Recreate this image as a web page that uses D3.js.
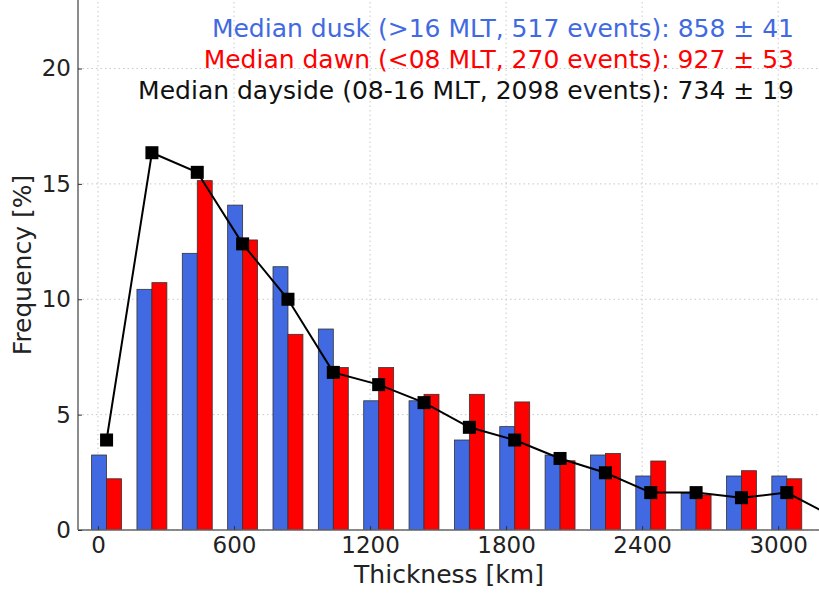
<!DOCTYPE html>
<html>
<head>
<meta charset="utf-8">
<script src="https://cdn.jsdelivr.net/npm/d3@7"></script>
<style>
  body { margin: 0; background: #fff; }
  svg { display: block; font-family: 'DejaVu Sans', sans-serif; }
</style>
</head>
<body>
<svg width="819" height="593"></svg>
<script>
const w = 819;
const h = 593;

// thickness bins (km, 200 km wide)
const bins = [0, 200, 400, 600, 800, 1000, 1200, 1400, 1600, 1800, 2000, 2200, 2400, 2600, 2800, 3000, 3200];
const dusk = [3.25, 10.43, 11.99, 14.08, 11.41, 8.71, 5.6, 5.6, 3.9, 4.48, 3.25, 3.25, 2.34, 1.59, 2.34, 2.34];
const dawn = [2.22, 10.72, 15.14, 12.57, 8.48, 7.04, 7.04, 5.88, 5.88, 5.55, 3.0, 3.32, 2.99, 1.52, 2.57, 2.22];
const dayside = [3.9, 16.35, 15.5, 12.4, 10.0, 6.83, 6.3, 5.52, 4.45, 3.9, 3.1, 2.48, 1.62, 1.62, 1.4, 1.62, 0.6];
const xTicks = [0, 600, 1200, 1800, 2400, 3000];
const yTicks = [0, 5, 10, 15, 20];
const legendLines = [
  { text: 'Median dusk (>16 MLT, 517 events): 858 \u00b1 41', color: '#4169e1' },
  { text: 'Median dawn (<08 MLT, 270 events): 927 \u00b1 53', color: '#ff0000' },
  { text: 'Median dayside (08-16 MLT, 2098 events): 734 \u00b1 19', color: '#111111' }
];

const margin = { left: 78, top: 1, right: 0, bottom: 63 };
const barW = 66; // km
const offset = 38; // group centre inside each bin

const svg = d3.select('svg');

const x = d3.scaleLinear().domain([-88, 3180]).range([margin.left, w - margin.right]);
const y = d3.scaleLinear().domain([0, 23]).range([h - margin.bottom, 530 - 23 * 23.075]);

svg.append('defs').append('clipPath').attr('id', 'clip')
  .append('rect')
  .attr('x', margin.left).attr('y', y(23))
  .attr('width', w - margin.left).attr('height', y(0) - y(23));

// grid
const grid = svg.append('g');
grid.selectAll('.gx').data(xTicks).enter().append('line')
  .attr('x1', d => x(d)).attr('x2', d => x(d))
  .attr('y1', y(0)).attr('y2', y(23))
  .attr('stroke', '#c8c8c8').attr('stroke-dasharray', '1.5,3').attr('stroke-width', 1);
grid.selectAll('.gy').data(yTicks).enter().append('line')
  .attr('x1', margin.left).attr('x2', w)
  .attr('y1', d => y(d)).attr('y2', d => y(d))
  .attr('stroke', '#c8c8c8').attr('stroke-dasharray', '1.5,3').attr('stroke-width', 1);

const plot = svg.append('g').attr('clip-path', 'url(#clip)');

// bars
plot.selectAll('.dusk').data(dusk).enter().append('rect')
  .attr('x', (d, i) => x(bins[i] + offset - barW))
  .attr('width', x(barW) - x(0))
  .attr('y', d => y(d))
  .attr('height', d => y(0) - y(d))
  .attr('fill', '#4169e1').attr('stroke', '#333').attr('stroke-width', 0.8);

plot.selectAll('.dawn').data(dawn).enter().append('rect')
  .attr('x', (d, i) => x(bins[i] + offset))
  .attr('width', x(barW) - x(0))
  .attr('y', d => y(d))
  .attr('height', d => y(0) - y(d))
  .attr('fill', '#ff0000').attr('stroke', '#333').attr('stroke-width', 0.8);

// dayside line
const line = d3.line().x((d, i) => x(bins[i] + offset)).y(d => y(d));
plot.append('path').datum(dayside)
  .attr('d', line)
  .attr('fill', 'none').attr('stroke', '#000').attr('stroke-width', 2);

plot.selectAll('.sq').data(dayside).enter().append('rect')
  .attr('x', (d, i) => x(bins[i] + offset) - 6.5)
  .attr('y', d => y(d) - 6.5)
  .attr('width', 13).attr('height', 13)
  .attr('fill', '#000');

// spines
svg.append('line').attr('x1', margin.left).attr('x2', margin.left).attr('y1', y(23)).attr('y2', y(0))
  .attr('stroke', '#666').attr('stroke-width', 1.5);
svg.append('line').attr('x1', margin.left).attr('x2', w).attr('y1', y(0)).attr('y2', y(0))
  .attr('stroke', '#666').attr('stroke-width', 1.5);
svg.append('line').attr('x1', margin.left).attr('x2', w).attr('y1', y(23)).attr('y2', y(23))
  .attr('stroke', '#666').attr('stroke-width', 1.5);

// axes
const xAxis = svg.append('g').attr('transform', `translate(0,${y(0)})`)
  .call(d3.axisBottom(x).tickValues(xTicks).tickFormat(d3.format('d')).tickSize(-4));
const yAxis = svg.append('g').attr('transform', `translate(${margin.left},0)`)
  .call(d3.axisLeft(y).tickValues(yTicks).tickSize(-4));
[xAxis, yAxis].forEach(a => {
  a.select('.domain').remove();
  a.selectAll('.tick line').attr('stroke', '#333');
  a.selectAll('.tick text').attr('fill', '#222').style('font-size', '23px')
    .style('font-family', "'DejaVu Sans', sans-serif");
});
xAxis.selectAll('.tick text').attr('y', 23).attr('dy', 0);
yAxis.selectAll('.tick text').attr('x', -7);

// axis labels
svg.append('text')
  .attr('x', 449).attr('y', 583)
  .attr('text-anchor', 'middle')
  .style('font-size', '25px').attr('fill', '#222')
  .text('Thickness [km]');
svg.append('text')
  .attr('transform', 'translate(31,265) rotate(-90)')
  .attr('text-anchor', 'middle')
  .style('font-size', '25px').attr('fill', '#222')
  .text('Frequency [%]');

// legend text
svg.selectAll('.leg').data(legendLines).enter().append('text')
  .attr('x', 794)
  .attr('y', (d, i) => 37.3 + i * 31)
  .attr('text-anchor', 'end')
  .style('font-size', '25px')
  .attr('fill', d => d.color)
  .text(d => d.text);
</script>
</body>
</html>
